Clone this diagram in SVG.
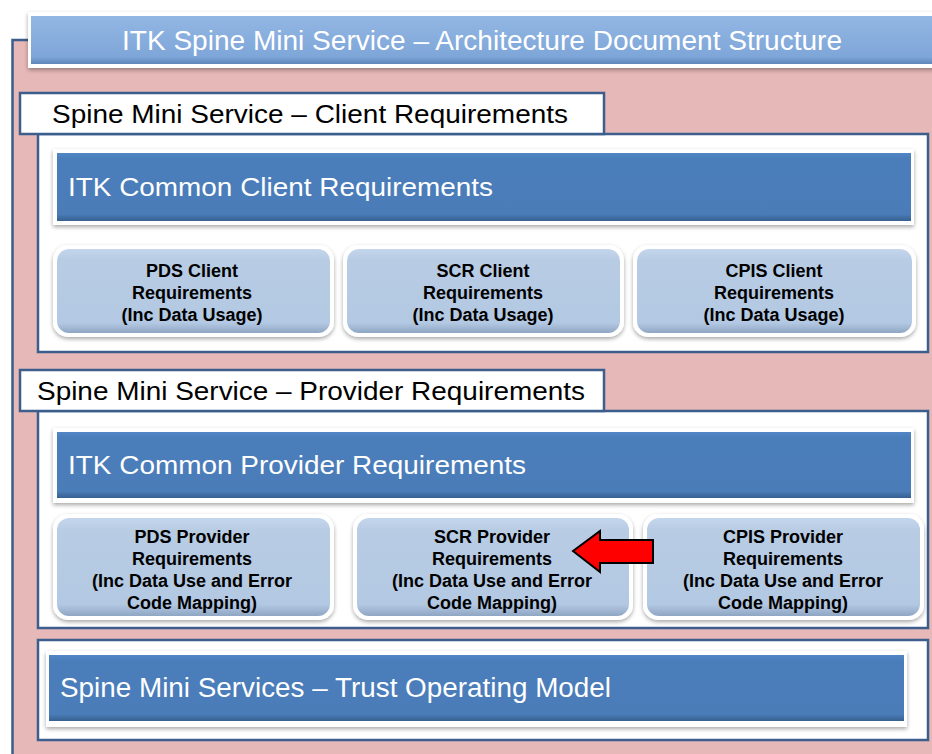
<svg xmlns="http://www.w3.org/2000/svg" width="932" height="754" viewBox="0 0 932 754">
<defs>
<linearGradient id="gTitle" x1="0" y1="0" x2="0" y2="1">
<stop offset="0" stop-color="#93B7E4"/><stop offset="0.85" stop-color="#7EA6D8"/><stop offset="1" stop-color="#5F86B8"/>
</linearGradient>
<linearGradient id="gBar" x1="0" y1="0" x2="0" y2="1">
<stop offset="0" stop-color="#5287C6"/><stop offset="0.08" stop-color="#4A7EBB"/><stop offset="0.9" stop-color="#4A7CB8"/><stop offset="1" stop-color="#36608F"/>
</linearGradient>
<linearGradient id="gSub" x1="0" y1="0" x2="0" y2="1">
<stop offset="0" stop-color="#C4D6EC"/><stop offset="0.12" stop-color="#B8CCE4"/><stop offset="0.88" stop-color="#B3C8E2"/><stop offset="1" stop-color="#8FA6C4"/>
</linearGradient>
<filter id="sh" x="-5%" y="-10%" width="110%" height="130%">
<feGaussianBlur in="SourceAlpha" stdDeviation="2"/>
<feOffset dx="0" dy="2" result="b"/>
<feComponentTransfer><feFuncA type="linear" slope="0.35"/></feComponentTransfer>
<feMerge><feMergeNode/><feMergeNode in="SourceGraphic"/></feMerge>
</filter>
</defs>
<style>
.frame{fill:#ffffff;filter:url(#sh)}
.bar{fill:url(#gBar)}
.sub{fill:url(#gSub)}
.cont{fill:#ffffff;stroke:#3B5E8C;stroke-width:2.5}
.wt{fill:#ffffff;font-family:"Liberation Sans Narrow","Liberation Sans",Arial,sans-serif;font-size:27px}
.wide{fill:#ffffff;font-family:"Liberation Sans",Arial,sans-serif;font-size:26px}
.lbl{fill:#000000;font-family:"Liberation Sans Narrow","Liberation Sans",Arial,sans-serif;font-size:26px}
.st{fill:#000000;font-family:"Liberation Sans",Arial,sans-serif;font-size:18px;font-weight:bold;text-anchor:middle}
</style>
<rect x="0" y="0" width="932" height="754" fill="#ffffff"/>
<g id="outer">
<rect x="12.5" y="40" width="940" height="730" fill="#E6B8B7" stroke="#3B5E8C" stroke-width="2.5"/>
</g>
<g id="title">
<rect class="frame" x="28" y="12" width="912" height="56"/>
<rect x="31" y="16" width="905" height="48" fill="url(#gTitle)"/>
<text class="wt" x="482" y="50" text-anchor="middle" textLength="720" lengthAdjust="spacingAndGlyphs">ITK Spine Mini Service – Architecture Document Structure</text>
</g>
<g id="client-container">
<rect class="cont" x="38" y="134" width="890" height="218"/>
</g>
<g id="client-label">
<rect x="20" y="93" width="584" height="41" fill="#ffffff" stroke="#3B5E8C" stroke-width="2.5"/>
<text class="lbl" x="52" y="123" textLength="516" lengthAdjust="spacingAndGlyphs">Spine Mini Service – Client Requirements</text>
</g>
<g id="itk-common-client">
<rect class="frame" x="53" y="149" width="861" height="76"/>
<rect class="bar" x="57" y="153" width="854" height="68"/>
<text class="wide" x="68" y="196" textLength="425" lengthAdjust="spacingAndGlyphs">ITK Common Client Requirements</text>
</g>
<g id="pds-client">
<rect class="frame" x="53" y="245" width="281" height="92" rx="15"/>
<rect class="sub" x="57" y="249" width="273" height="84" rx="12"/>
<text class="st" x="192" y="277">PDS Client</text>
<text class="st" x="192" y="299">Requirements</text>
<text class="st" x="192" y="321">(Inc Data Usage)</text>
</g>
<g id="scr-client">
<rect class="frame" x="343" y="245" width="281" height="92" rx="15"/>
<rect class="sub" x="347" y="249" width="273" height="84" rx="12"/>
<text class="st" x="483" y="277">SCR Client</text>
<text class="st" x="483" y="299">Requirements</text>
<text class="st" x="483" y="321">(Inc Data Usage)</text>
</g>
<g id="cpis-client">
<rect class="frame" x="633" y="245" width="283" height="92" rx="15"/>
<rect class="sub" x="637" y="249" width="275" height="84" rx="12"/>
<text class="st" x="774" y="277">CPIS Client</text>
<text class="st" x="774" y="299">Requirements</text>
<text class="st" x="774" y="321">(Inc Data Usage)</text>
</g>
<g id="provider-container">
<rect class="cont" x="38" y="411" width="890" height="217"/>
</g>
<g id="provider-label">
<rect x="20" y="370" width="584" height="41" fill="#ffffff" stroke="#3B5E8C" stroke-width="2.5"/>
<text class="lbl" x="37" y="400" textLength="548" lengthAdjust="spacingAndGlyphs">Spine Mini Service – Provider Requirements</text>
</g>
<g id="itk-common-provider">
<rect class="frame" x="53" y="428" width="861" height="75"/>
<rect class="bar" x="57" y="432" width="854" height="66"/>
<text class="wide" x="68" y="474" textLength="458" lengthAdjust="spacingAndGlyphs">ITK Common Provider Requirements</text>
</g>
<g id="pds-provider">
<rect class="frame" x="53" y="514" width="281" height="106" rx="15"/>
<rect class="sub" x="57" y="518" width="273" height="98" rx="12"/>
<text class="st" x="192" y="543">PDS Provider</text>
<text class="st" x="192" y="565">Requirements</text>
<text class="st" x="192" y="587">(Inc Data Use and Error</text>
<text class="st" x="192" y="609">Code Mapping)</text>
</g>
<g id="scr-provider">
<rect class="frame" x="353" y="514" width="280" height="106" rx="15"/>
<rect class="sub" x="357" y="518" width="272" height="98" rx="12"/>
<text class="st" x="492" y="543">SCR Provider</text>
<text class="st" x="492" y="565">Requirements</text>
<text class="st" x="492" y="587">(Inc Data Use and Error</text>
<text class="st" x="492" y="609">Code Mapping)</text>
</g>
<g id="cpis-provider">
<rect class="frame" x="643" y="514" width="281" height="106" rx="15"/>
<rect class="sub" x="647" y="518" width="273" height="98" rx="12"/>
<text class="st" x="783" y="543">CPIS Provider</text>
<text class="st" x="783" y="565">Requirements</text>
<text class="st" x="783" y="587">(Inc Data Use and Error</text>
<text class="st" x="783" y="609">Code Mapping)</text>
</g>
<g id="red-arrow">
<polygon points="573,551 600,531 600,540 653,540 653,563 600,563 600,572" fill="#FF0000" stroke="#000000" stroke-width="2" stroke-linejoin="miter"/>
</g>
<g id="trust-container">
<rect class="cont" x="38" y="640" width="890" height="100"/>
</g>
<g id="trust-model">
<rect class="frame" x="46" y="651" width="861" height="76"/>
<rect class="bar" x="49" y="655" width="855" height="66"/>
<text class="wt" x="60" y="697" textLength="551" lengthAdjust="spacingAndGlyphs">Spine Mini Services – Trust Operating Model</text>
</g>
<g id="connectors"/>
</svg>
